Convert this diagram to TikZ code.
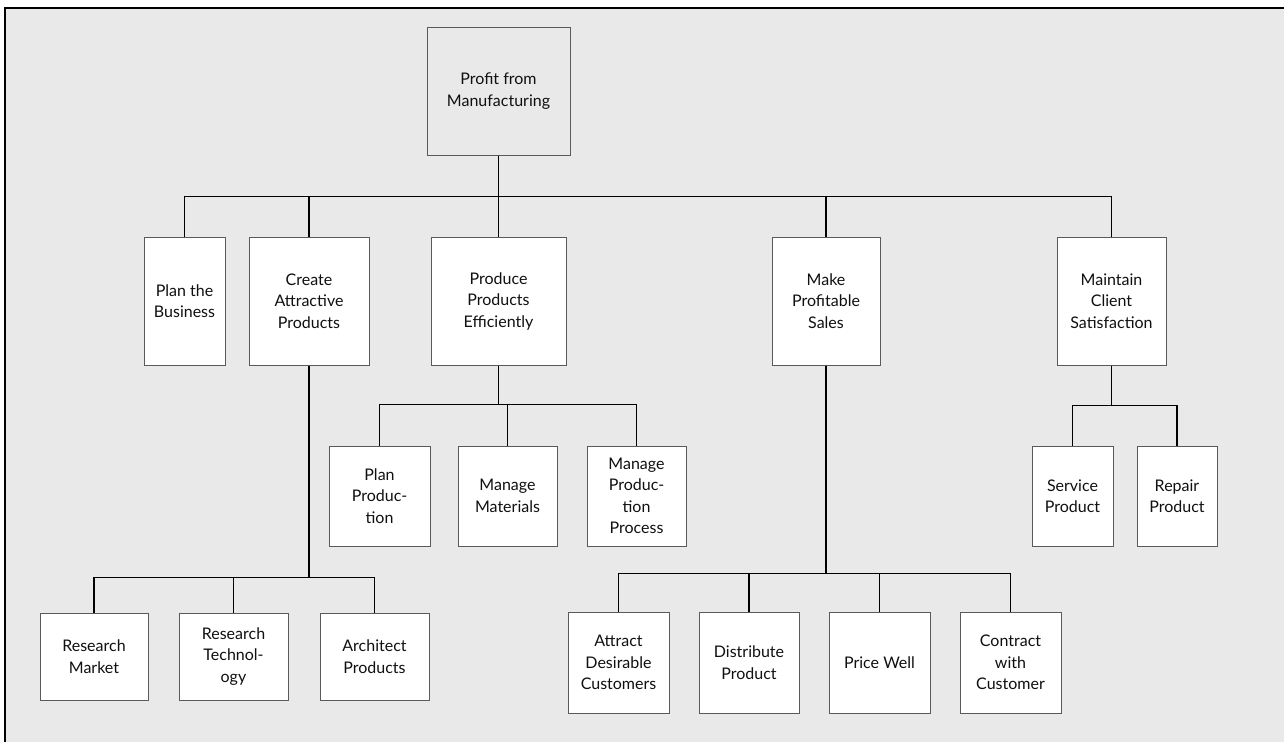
\documentclass[tikz,border=0pt]{standalone}
\usepackage{fontspec}
\setmainfont{Lato}
\definecolor{bggray}{HTML}{E9E9E9}
\definecolor{boxline}{HTML}{5A5A5A}
\definecolor{txt}{HTML}{101010}
\begin{document}
\begin{tikzpicture}[x=1pt,y=-1pt,
  box/.style={draw=boxline,line width=1pt,fill=white,inner sep=0pt,align=center,
    text=txt,font=\fontsize{16}{21.5}\selectfont,minimum width=#1},
  conn/.style={draw=black,line width=1.7pt}]
\useasboundingbox (0,0) rectangle (1284,742);
\fill[white] (0,0) rectangle (1284,742);
\fill[bggray] (5,8) rectangle (1284,742);
\draw[line width=1.3pt] (5,742) -- (5,8) -- (1284,8);

% root
\node[box=143pt,minimum height=128pt,fill=bggray] (root) at (498.5,91) {Profit from\\Manufacturing};

% level 1
\begin{scope}[every node/.append style={minimum height=128pt}]
\node[box=81pt]  (plan)     at (184.5,301)  {Plan the\\Business};
\node[box=120pt] (create)   at (309,301)    {Create\\Attractive\\Products};
\node[box=135pt] (produce)  at (498.5,301)  {Produce\\Products\\Efficiently};
\node[box=108pt] (sales)    at (826,301)    {Make\\Profitable\\Sales};
\node[box=109pt] (maintain) at (1111.5,301) {Maintain\\Client\\Satisfaction};
\end{scope}

% level 2 (produce, maintain)
\begin{scope}[every node/.append style={minimum height=100pt}]
\node[box=101pt] (planprod)  at (379.5,496)  {Plan\\Produc-\\tion};
\node[box=99pt]  (materials) at (507.5,496)  {Manage\\Materials};
\node[box=99pt]  (process)   at (636.5,496)  {Manage\\Produc-\\tion\\Process};
\node[box=81pt]  (service)   at (1072.5,496) {Service\\Product};
\node[box=80pt]  (repair)    at (1177,496)   {Repair\\Product};
\end{scope}

% create children
\begin{scope}[every node/.append style={minimum height=87pt}]
\node[box=108pt] (rmarket) at (94,656.5)    {Research\\Market};
\node[box=109pt] (rtech)   at (233.5,656.5) {Research\\Technol-\\ogy};
\node[box=109pt] (arch)    at (374.5,656.5) {Architect\\Products};
\end{scope}

% sales children
\begin{scope}[every node/.append style={minimum height=101pt}]
\node[box=101pt] (attract)    at (618.5,662.5)  {Attract\\Desirable\\Customers};
\node[box=100pt] (distribute) at (749,662.5)    {Distribute\\Product};
\node[box=101pt] (price)      at (879.5,662.5)  {Price Well};
\node[box=101pt] (contract)   at (1010.5,662.5) {Contract\\with\\Customer};
\end{scope}

% connectors
\foreach \c in {plan,create,produce,sales,maintain}
  \draw[conn] (root.south) -- ++(0,41) -| (\c.north);
\foreach \c in {planprod,materials,process}
  \draw[conn] (produce.south) -- ++(0,39) -| (\c.north);
\foreach \c in {service,repair}
  \draw[conn] (maintain.south) -- ++(0,40) -| (\c.north);
\foreach \c in {rmarket,rtech,arch}
  \draw[conn] (create.south) -- ++(0,212) -| (\c.north);
\foreach \c in {attract,distribute,price,contract}
  \draw[conn] (sales.south) -- ++(0,208) -| (\c.north);
\end{tikzpicture}
\end{document}
